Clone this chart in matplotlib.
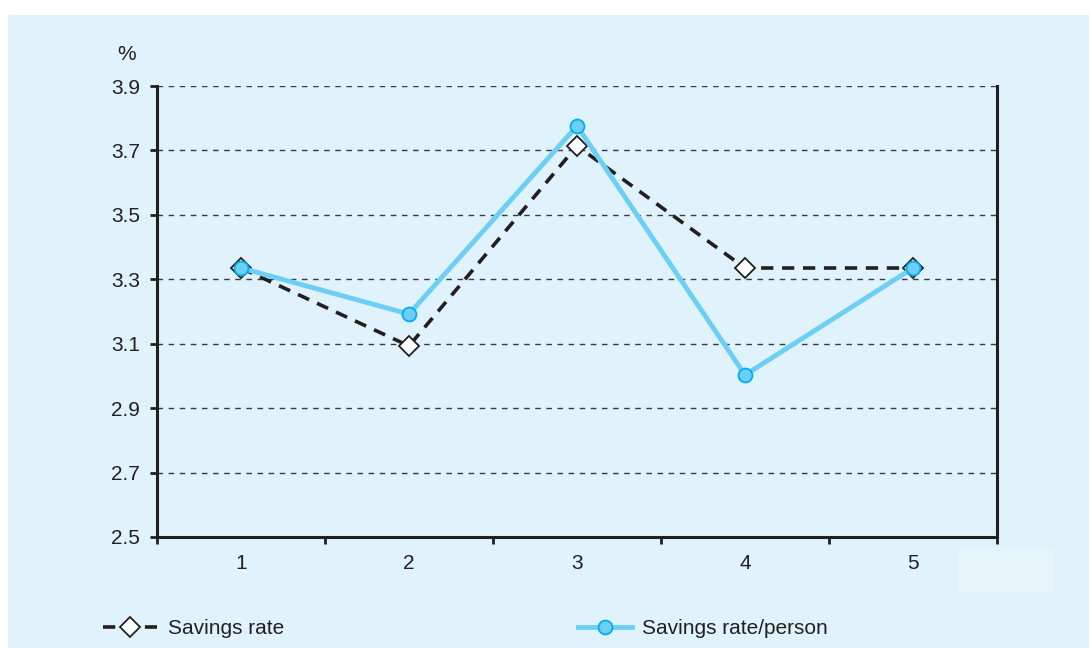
import matplotlib.pyplot as plt
from matplotlib.patches import Rectangle

plt.rcParams['font.family'] = ['Liberation Sans', 'DejaVu Sans']

periodos = [1, 2, 3, 4, 5]
taxa_poupanca = [3.335, 3.093, 3.714, 3.335, 3.335]
taxa_por_pessoa = [3.335, 3.192, 3.776, 3.003, 3.335]
y_ticks = [2.5, 2.7, 2.9, 3.1, 3.3, 3.5, 3.7, 3.9]

fundo = '#e0f2fc'
preto = '#231f20'
azul = '#6dcff6'
azul_borda = '#00aeef'

fig = plt.figure(figsize=(10.89, 6.48), dpi=100)
fig.patch.set_facecolor('white')

# fundo azul claro com margem branca no topo e na esquerda
fig.patches.append(Rectangle((8 / 1089, 0), 1, 1 - 15 / 648, transform=fig.transFigure,
                             facecolor=fundo, edgecolor='none', zorder=-2))
fig.patches.append(Rectangle((958 / 1089, 1 - 593 / 648), 95 / 1089, 45 / 648,
                             transform=fig.transFigure, facecolor='#e6f6f8',
                             edgecolor='none', zorder=-1))

ax = fig.add_axes([157 / 1089, 1 - 537 / 648, 840 / 1089, 451 / 648])
ax.set_facecolor('none')

ax.plot(periodos, taxa_poupanca, color=preto, lw=2.6, dashes=(3.4, 2.4),
        marker='D', markersize=10.5, markerfacecolor='white',
        markeredgecolor=preto, markeredgewidth=1.3, label='Savings rate', zorder=3)
ax.plot(periodos, taxa_por_pessoa, color=azul, lw=3.5,
        marker='o', markersize=10, markerfacecolor=azul,
        markeredgecolor=azul_borda, markeredgewidth=1.3,
        label='Savings rate/person', zorder=4)

ax.set_xlim(0.5, 5.5)
ax.set_ylim(2.5, 3.9)
ax.set_yticks(y_ticks)
ax.set_yticklabels([f'{v:.1f}' for v in y_ticks])
ax.set_xticks([0.5, 1.5, 2.5, 3.5, 4.5, 5.5])
ax.set_xticklabels([])
ax.set_xticks(periodos, minor=True)
ax.set_xticklabels([str(p) for p in periodos], minor=True)

for v in y_ticks[1:]:
    ax.axhline(v, color='#3a3a3a', lw=1, dashes=(4, 4), zorder=1)

ax.spines['top'].set_visible(False)
for lado in ['left', 'bottom', 'right']:
    ax.spines[lado].set_color(preto)
    ax.spines[lado].set_linewidth(2.2)

ax.tick_params(axis='y', length=5, width=2, color=preto, pad=7,
               labelsize=15, labelcolor=preto)
ax.tick_params(axis='x', which='major', length=5, width=2, color=preto)
ax.tick_params(axis='x', which='minor', length=0, pad=12,
               labelsize=15, labelcolor=preto)

fig.text(127 / 1089, 1 - 55 / 648, '%', ha='center', va='center',
         fontsize=15, color=preto)

fig.legend(loc='center left', bbox_to_anchor=(103 / 1089, 1 - 629 / 648),
           ncol=2, frameon=False, fontsize=15, handlelength=2.6,
           handletextpad=0.5, columnspacing=14.1, borderpad=0,
           borderaxespad=0, labelcolor=preto)

plt.savefig('out.png', dpi=100, facecolor=fig.get_facecolor())
plt.close()
